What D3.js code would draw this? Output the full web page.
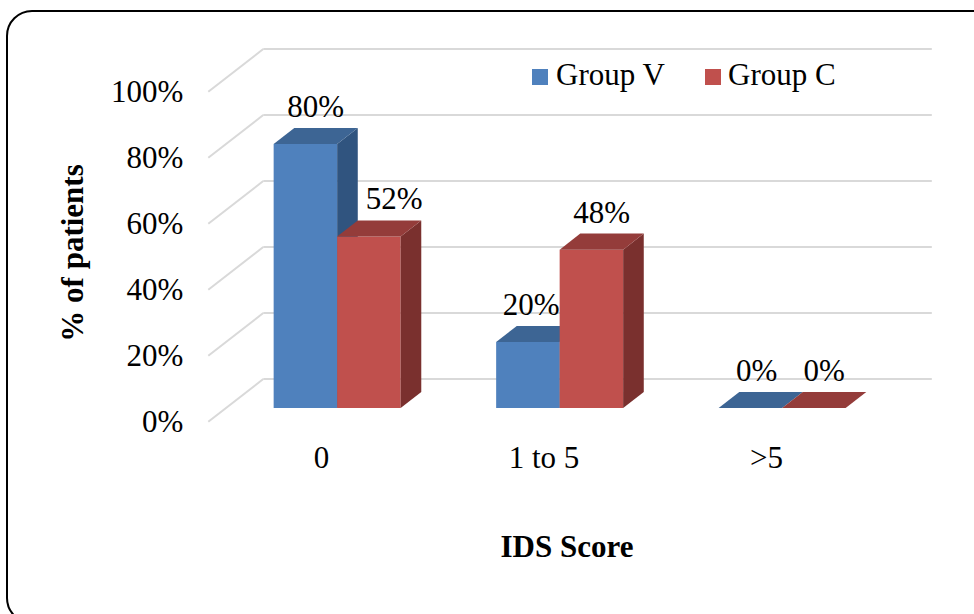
<!DOCTYPE html>
<html>
<head>
<meta charset="utf-8">
<script src="https://cdn.jsdelivr.net/npm/d3@7/dist/d3.min.js"></script>
<style>
  html, body { margin: 0; padding: 0; background: #ffffff; }
  svg text { font-family: "Liberation Serif", "DejaVu Serif", serif; fill: #000; }
</style>
</head>
<body>
<svg id="chart" width="974" height="614" font-family="Liberation Serif, DejaVu Serif, serif"></svg>
<script>
// IDS score distribution by group
const categories = ["0", "1 to 5", ">5"];
const seriesNames = ["Group V", "Group C"];
const groupV = [80, 20, 0];
const groupC = [52, 48, 0];
const yTicks = [0, 20, 40, 60, 80, 100];

const FONT = '"Liberation Serif", "DejaVu Serif", serif';

const colors = {
  "Group V": { front: "#4f81bd", top: "#3d6594", side: "#30547f" },
  "Group C": { front: "#c0504d", top: "#943c3a", side: "#7a302e" }
};

// Horizontal shifts for value labels that were moved off their bars
const labelShift = { "0|Group C": 15, "1 to 5|Group V": -7, ">5|Group V": -4 };

const svg = d3.select("#chart");

// Frame
svg.append("rect")
  .attr("x", 7).attr("y", 11)
  .attr("width", 990).attr("height", 612)
  .attr("rx", 25).attr("ry", 25)
  .attr("fill", "#fff").attr("stroke", "#000").attr("stroke-width", 2);

// Front plane of the 3D plot box, plus the depth vector
const plotLeft = 208.3, plotRight = 875.8;
const DX = 55, DY = -42.7;
const proj = (x, y, d) => [x + d * DX, y + d * DY];

const x = d3.scaleBand().domain(categories).range([plotLeft, plotRight]);
const inner = d3.scaleBand().domain(seriesNames)
  .range([0, x.bandwidth()]).paddingInner(0).paddingOuter(0.752);
const y = d3.scaleLinear().domain([0, 100]).range([421.7, 91.7]);

// Depth span of the bars within the box
const d0 = 0.32, d1 = 0.695;

// Gridlines: back wall and left side wall
const grid = svg.append("g").attr("stroke", "#d9d9d9").attr("stroke-width", 2).attr("fill", "none");
yTicks.forEach(t => {
  const [bx, by] = proj(plotLeft, y(t), 1);
  const [bx2] = proj(plotRight, y(t), 1);
  grid.append("line").attr("x1", bx).attr("y1", by).attr("x2", bx2 + 1).attr("y2", by);
  grid.append("line").attr("x1", plotLeft).attr("y1", y(t)).attr("x2", bx).attr("y2", by);
});

// Y axis tick labels
const yAxis = d3.axisLeft(y).tickValues(yTicks).tickFormat(d => d + "%")
  .tickSize(0).tickPadding(25);
const gy = svg.append("g").attr("transform", `translate(${plotLeft},0)`).call(yAxis)
  .attr("font-family", FONT).attr("font-size", 31);
gy.select(".domain").remove();
gy.selectAll("text").attr("fill", "#000").style("font-family", FONT).style("font-size", "31px");

// Bars
const data = categories.map((c, i) => ({ cat: c, values: [
  { name: "Group V", v: groupV[i] },
  { name: "Group C", v: groupC[i] }
]}));

const pt = p => p.join(",");
const barsG = svg.append("g");
data.forEach(g => {
  g.values.forEach(s => {
    const xl = x(g.cat) + inner(s.name);
    const xr = xl + inner.bandwidth();
    const yb = y(0), yt = y(s.v);
    const col = colors[s.name];
    const fa = proj(xl, yt, d0), fb = proj(xr, yt, d0), fc = proj(xr, yb, d0), fd = proj(xl, yb, d0);
    const ba = proj(xl, yt, d1), bb = proj(xr, yt, d1), bc = proj(xr, yb, d1);
    if (s.v > 0) {
      barsG.append("polygon").attr("points", [fa, fb, fc, fd].map(pt).join(" ")).attr("fill", col.front);
      barsG.append("polygon").attr("points", [fb, bb, bc, fc].map(pt).join(" ")).attr("fill", col.side);
    }
    barsG.append("polygon").attr("points", [fa, ba, bb, fb].map(pt).join(" ")).attr("fill", col.top);

    // value label above the bar
    const [lx] = proj((xl + xr) / 2, yt, (d0 + d1) / 2);
    const [, ly] = proj(xl, yt, d1);
    const shift = labelShift[g.cat + "|" + s.name] || 0;
    barsG.append("text")
      .attr("x", lx + shift).attr("y", ly - 11)
      .attr("text-anchor", "middle")
      .style("font-family", FONT).style("font-size", "31px")
      .text(s.v + "%");
  });
});

// Category labels
svg.append("g").selectAll("text").data(categories).join("text")
  .attr("x", d => x(d) + x.bandwidth() / 2 + 2)
  .attr("y", 468)
  .attr("text-anchor", "middle")
  .style("font-family", FONT).style("font-size", "31px")
  .text(d => d);

// Axis titles
svg.append("text")
  .attr("x", 567).attr("y", 557)
  .attr("text-anchor", "middle")
  .style("font-family", FONT).style("font-size", "31px").style("font-weight", "bold")
  .text("IDS Score");
svg.append("text")
  .attr("transform", "translate(83,253) rotate(-90)")
  .attr("text-anchor", "middle")
  .style("font-family", FONT).style("font-size", "31px").style("font-weight", "bold")
  .text("% of patients");

// Legend
const legendPos = [{ sx: 532, tx: 556 }, { sx: 705, tx: 728 }];
const legend = svg.append("g");
seriesNames.forEach((n, i) => {
  legend.append("rect").attr("x", legendPos[i].sx).attr("y", 69)
    .attr("width", 16).attr("height", 16).attr("fill", colors[n].front);
  legend.append("text").attr("x", legendPos[i].tx).attr("y", 85)
    .style("font-family", FONT).style("font-size", "31px").text(n);
});
</script>
</body>
</html>
